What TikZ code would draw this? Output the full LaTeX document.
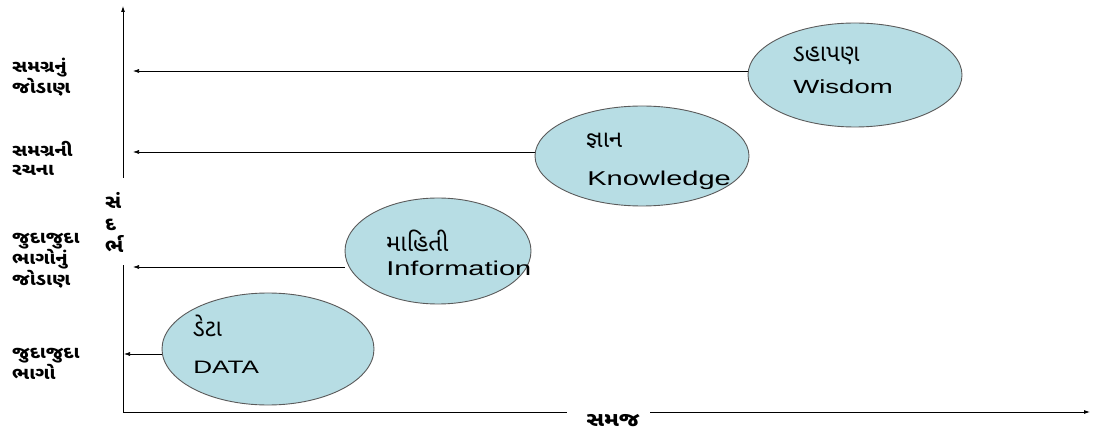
\documentclass[tikz,border=0pt]{standalone}
\usepackage{fontspec}
\setmainfont{Liberation Sans}
\newfontfamily\guj[Script=Gujarati]{Noto Sans Gujarati UI}
\usetikzlibrary{shapes.geometric,arrows.meta,calc}
\definecolor{ellfill}{RGB}{183,221,228}
\definecolor{ellline}{RGB}{90,90,90}
\begin{document}
\begin{tikzpicture}[x=1pt,y=-1pt,
  blob/.style={ellipse,draw=ellline,fill=ellfill,line width=0.9pt,inner sep=0},
  axisline/.style={line width=0.8pt,black},
  arr/.style={line width=0.6pt,-{Latex[length=6pt,width=4pt]}},
  eng/.style={anchor=west,inner sep=0,xscale=1.45},
  gu/.style={font=\guj\fontsize{24}{26}\selectfont,anchor=west,inner sep=0,xscale=1.0},
  side/.style={font=\guj\bfseries\fontsize{17}{19}\selectfont,anchor=west,align=left,inner sep=0,xscale=1.15}]
\useasboundingbox (0,0) rectangle (1099,435);
% axes
\coordinate (o) at (123,412);
\coordinate (ytop) at (123,6);
\coordinate (yg1) at (123,265);
\coordinate (yg2) at (123,178);
\coordinate (xg1) at (567,412);
\coordinate (xg2) at (650,412);
\coordinate (xend) at (1090,412);
\draw[axisline] (o) -- (yg1);
\draw[axisline,-{Latex[length=6pt,width=4pt]}] (yg2) -- (ytop);
\draw[axisline] (o) -- (xg1);
\draw[axisline,-{Latex[length=6pt,width=4pt]}] (xg2) -- (xend);
\node[font=\guj\bfseries\fontsize{19}{22}\selectfont,anchor=west,align=left,inner sep=0,xscale=1.1] (ylab) at (105,222) {સં\\દ\\ર્ભ};
\node[font=\guj\bfseries\fontsize{20}{22}\selectfont,inner sep=0,xscale=1.15] (xlab) at (613,421) {સમજ};
% side labels
\node[side] (l1) at (12,77) {સમગ્રનું\\જોડાણ};
\node[side] (l2) at (12,158) {સમગ્રની\\રચના};
\node[side,font=\guj\bfseries\fontsize{17}{18}\selectfont] (l3) at (12,261) {જુદાજુદા\\ભાગોનું\\જોડાણ};
\node[side] (l4) at (12,364) {જુદાજુદા\\ભાગો};
% ellipses
\node[blob,minimum width=214pt,minimum height=104pt] (wis) at (855,75) {};
\node[blob,minimum width=214pt,minimum height=100pt] (kno) at (642,156) {};
\node[blob,minimum width=186pt,minimum height=106pt] (inf) at (438,251) {};
\node[blob,minimum width=212pt,minimum height=112pt] (dat) at (268,349) {};
% texts
\node[gu] (wisg) at (793,56) {ડહાપણ};
\node[eng,font=\fontsize{19}{21}\selectfont] (wise) at (793,87) {Wisdom};
\node[gu] (knog) at (586,141) {જ્ઞાન};
\node[eng,font=\fontsize{20}{22}\selectfont] (knoe) at (587,180) {Knowledge};
\node[gu] (infg) at (386,241) {માહિતી};
\node[eng,font=\fontsize{20}{22}\selectfont] (infe) at (386,268) {Information};
\node[gu] (datg) at (193,326) {ડેટા};
\node[eng,font=\fontsize{18}{20}\selectfont] (date) at (193,367) {DATA};
% arrows
\coordinate (a1) at (133,71);
\coordinate (a2) at (133,152);
\coordinate (a3) at (133,267);
\coordinate (a4) at (124,354);
\draw[arr] (a1 -| wis.west) -- (a1);
\draw[arr] (a2 -| kno.west) -- (a2);
\draw[arr] (a3 -| inf.west) -- (a3);
\draw[arr] (a4 -| dat.west) -- (a4);
\end{tikzpicture}
\end{document}
